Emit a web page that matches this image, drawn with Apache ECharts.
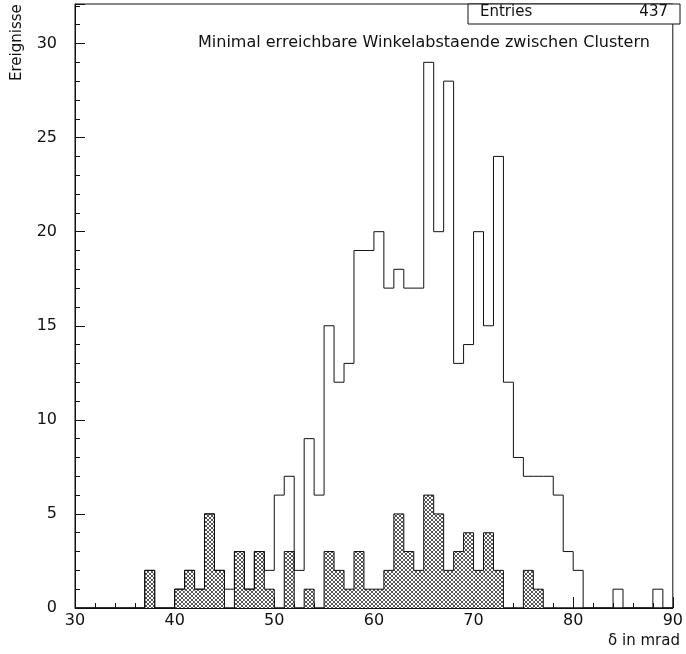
<!DOCTYPE html>
<html>
<head>
<meta charset="utf-8">
<script src="https://cdn.jsdelivr.net/npm/echarts@6/dist/echarts.min.js"></script>
<style>
  html, body { margin: 0; padding: 0; background: #fff; }
  #main { width: 686px; height: 654px; }
</style>
</head>
<body>
<div id="main"></div>
<script>
// bin lower edges 30..89, width 1 mrad
const binStart = 30;
const binWidth = 1;
// all entries per bin
const totals = [
  0, 0, 0, 0, 0, 0, 0, 2, 0, 0,
  1, 2, 1, 5, 2, 1, 3, 1, 3, 2,
  6, 7, 2, 9, 6, 15, 12, 13, 19, 19,
  20, 17, 18, 17, 17, 29, 20, 28, 13, 14,
  20, 15, 24, 12, 8, 7, 7, 7, 6, 3,
  2, 0, 0, 0, 1, 0, 0, 0, 1, 0
];
// hatched subset
const hatched = [
  0, 0, 0, 0, 0, 0, 0, 2, 0, 0,
  1, 2, 1, 5, 2, 0, 3, 1, 3, 1,
  0, 3, 0, 1, 0, 3, 2, 1, 3, 1,
  1, 2, 5, 3, 2, 6, 5, 2, 3, 4,
  2, 4, 2, 0, 0, 2, 1, 0, 0, 0,
  0, 0, 0, 0, 0, 0, 0, 0, 0, 0
];
const entries = 437;
const titleText = 'Minimal erreichbare Winkelabstaende zwischen Clustern';

const FONT = 'DejaVu Sans';
const INK = '#111';

// cross hatch pattern, crisp 1px diagonals
function makeHatch() {
  const n = 4;
  const c = document.createElement('canvas');
  c.width = n;
  c.height = n;
  const ctx = c.getContext('2d');
  ctx.fillStyle = '#fff';
  ctx.fillRect(0, 0, n, n);
  ctx.fillStyle = '#555';
  for (let i = 0; i < n; i++) {
    ctx.fillRect(i, i, 1, 1);
    ctx.fillRect(i, n - 1 - i, 1, 1);
  }
  return c;
}
const hatch = makeHatch();

// step outline points: vertical at left edge, then across the bin
function stepPoints(arr) {
  const pts = [[binStart, 0]];
  arr.forEach(function (v, i) {
    pts.push([binStart + (i + 1) * binWidth, v]);
  });
  return pts;
}

const hatchData = [];
hatched.forEach(function (v, i) {
  if (v > 0) hatchData.push([binStart + i * binWidth, binStart + (i + 1) * binWidth, v]);
});

const chart = echarts.init(document.getElementById('main'));

const option = {
  animation: false,
  grid: {
    left: 75, right: 6, top: 4, bottom: 46,
    show: true, borderColor: INK, borderWidth: 1
  },
  xAxis: {
    type: 'value',
    min: 30, max: 90, interval: 10,
    axisLine: { lineStyle: { color: INK, width: 1 } },
    axisTick: { inside: true, length: 11, lineStyle: { color: INK } },
    minorTick: { show: true, splitNumber: 5, length: 5, lineStyle: { color: INK } },
    splitLine: { show: false },
    axisLabel: { color: INK, fontFamily: FONT, fontSize: 16, margin: 5 }
  },
  yAxis: {
    type: 'value',
    min: 0, max: 32.1, interval: 5,
    axisLine: { show: true, lineStyle: { color: INK, width: 1 } },
    axisTick: { show: true, inside: true, length: 10, lineStyle: { color: INK } },
    minorTick: { show: true, splitNumber: 5, length: 5, lineStyle: { color: INK } },
    splitLine: { show: false },
    axisLabel: { color: INK, fontFamily: FONT, fontSize: 16, margin: 18, showMaxLabel: false }
  },
  graphic: [
    {
      type: 'text', left: 198, top: 35,
      style: { text: titleText, font: '16px "' + FONT + '"', fill: INK }
    },
    {
      type: 'rect', shape: { x: 468, y: 4, width: 212, height: 20 },
      style: { fill: '#fff', stroke: INK, lineWidth: 1 }, z: 10
    },
    {
      type: 'text', left: 480, top: 5, z: 11,
      style: { text: 'Entries', font: '15px "' + FONT + '"', fill: INK }
    },
    {
      type: 'text', right: 18, top: 5, z: 11,
      style: { text: String(entries), font: '15px "' + FONT + '"', fill: INK, align: 'right' }
    },
    {
      type: 'text', x: 10, y: 81, rotation: Math.PI / 2,
      style: { text: 'Ereignisse', font: '15px "' + FONT + '"', fill: INK }
    },
    {
      type: 'text', right: 6, top: 634,
      style: { text: 'δ in mrad', font: '15px "' + FONT + '"', fill: INK }
    }
  ],
  series: [
    {
      type: 'custom',
      data: hatchData,
      z: 2,
      renderItem: function (params, api) {
        const p0 = api.coord([api.value(0), api.value(2)]);
        const p1 = api.coord([api.value(1), 0]);
        return {
          type: 'rect',
          shape: { x: p0[0], y: p0[1], width: p1[0] - p0[0], height: p1[1] - p0[1] },
          style: { fill: { image: hatch, repeat: 'repeat' }, stroke: null }
        };
      }
    },
    {
      type: 'line',
      data: stepPoints(hatched),
      step: 'start',
      symbol: 'none',
      z: 3,
      lineStyle: { color: INK, width: 1 }
    },
    {
      type: 'line',
      data: stepPoints(totals),
      step: 'start',
      symbol: 'none',
      z: 4,
      lineStyle: { color: INK, width: 1 }
    }
  ]
};

chart.setOption(option);
</script>
</body>
</html>
